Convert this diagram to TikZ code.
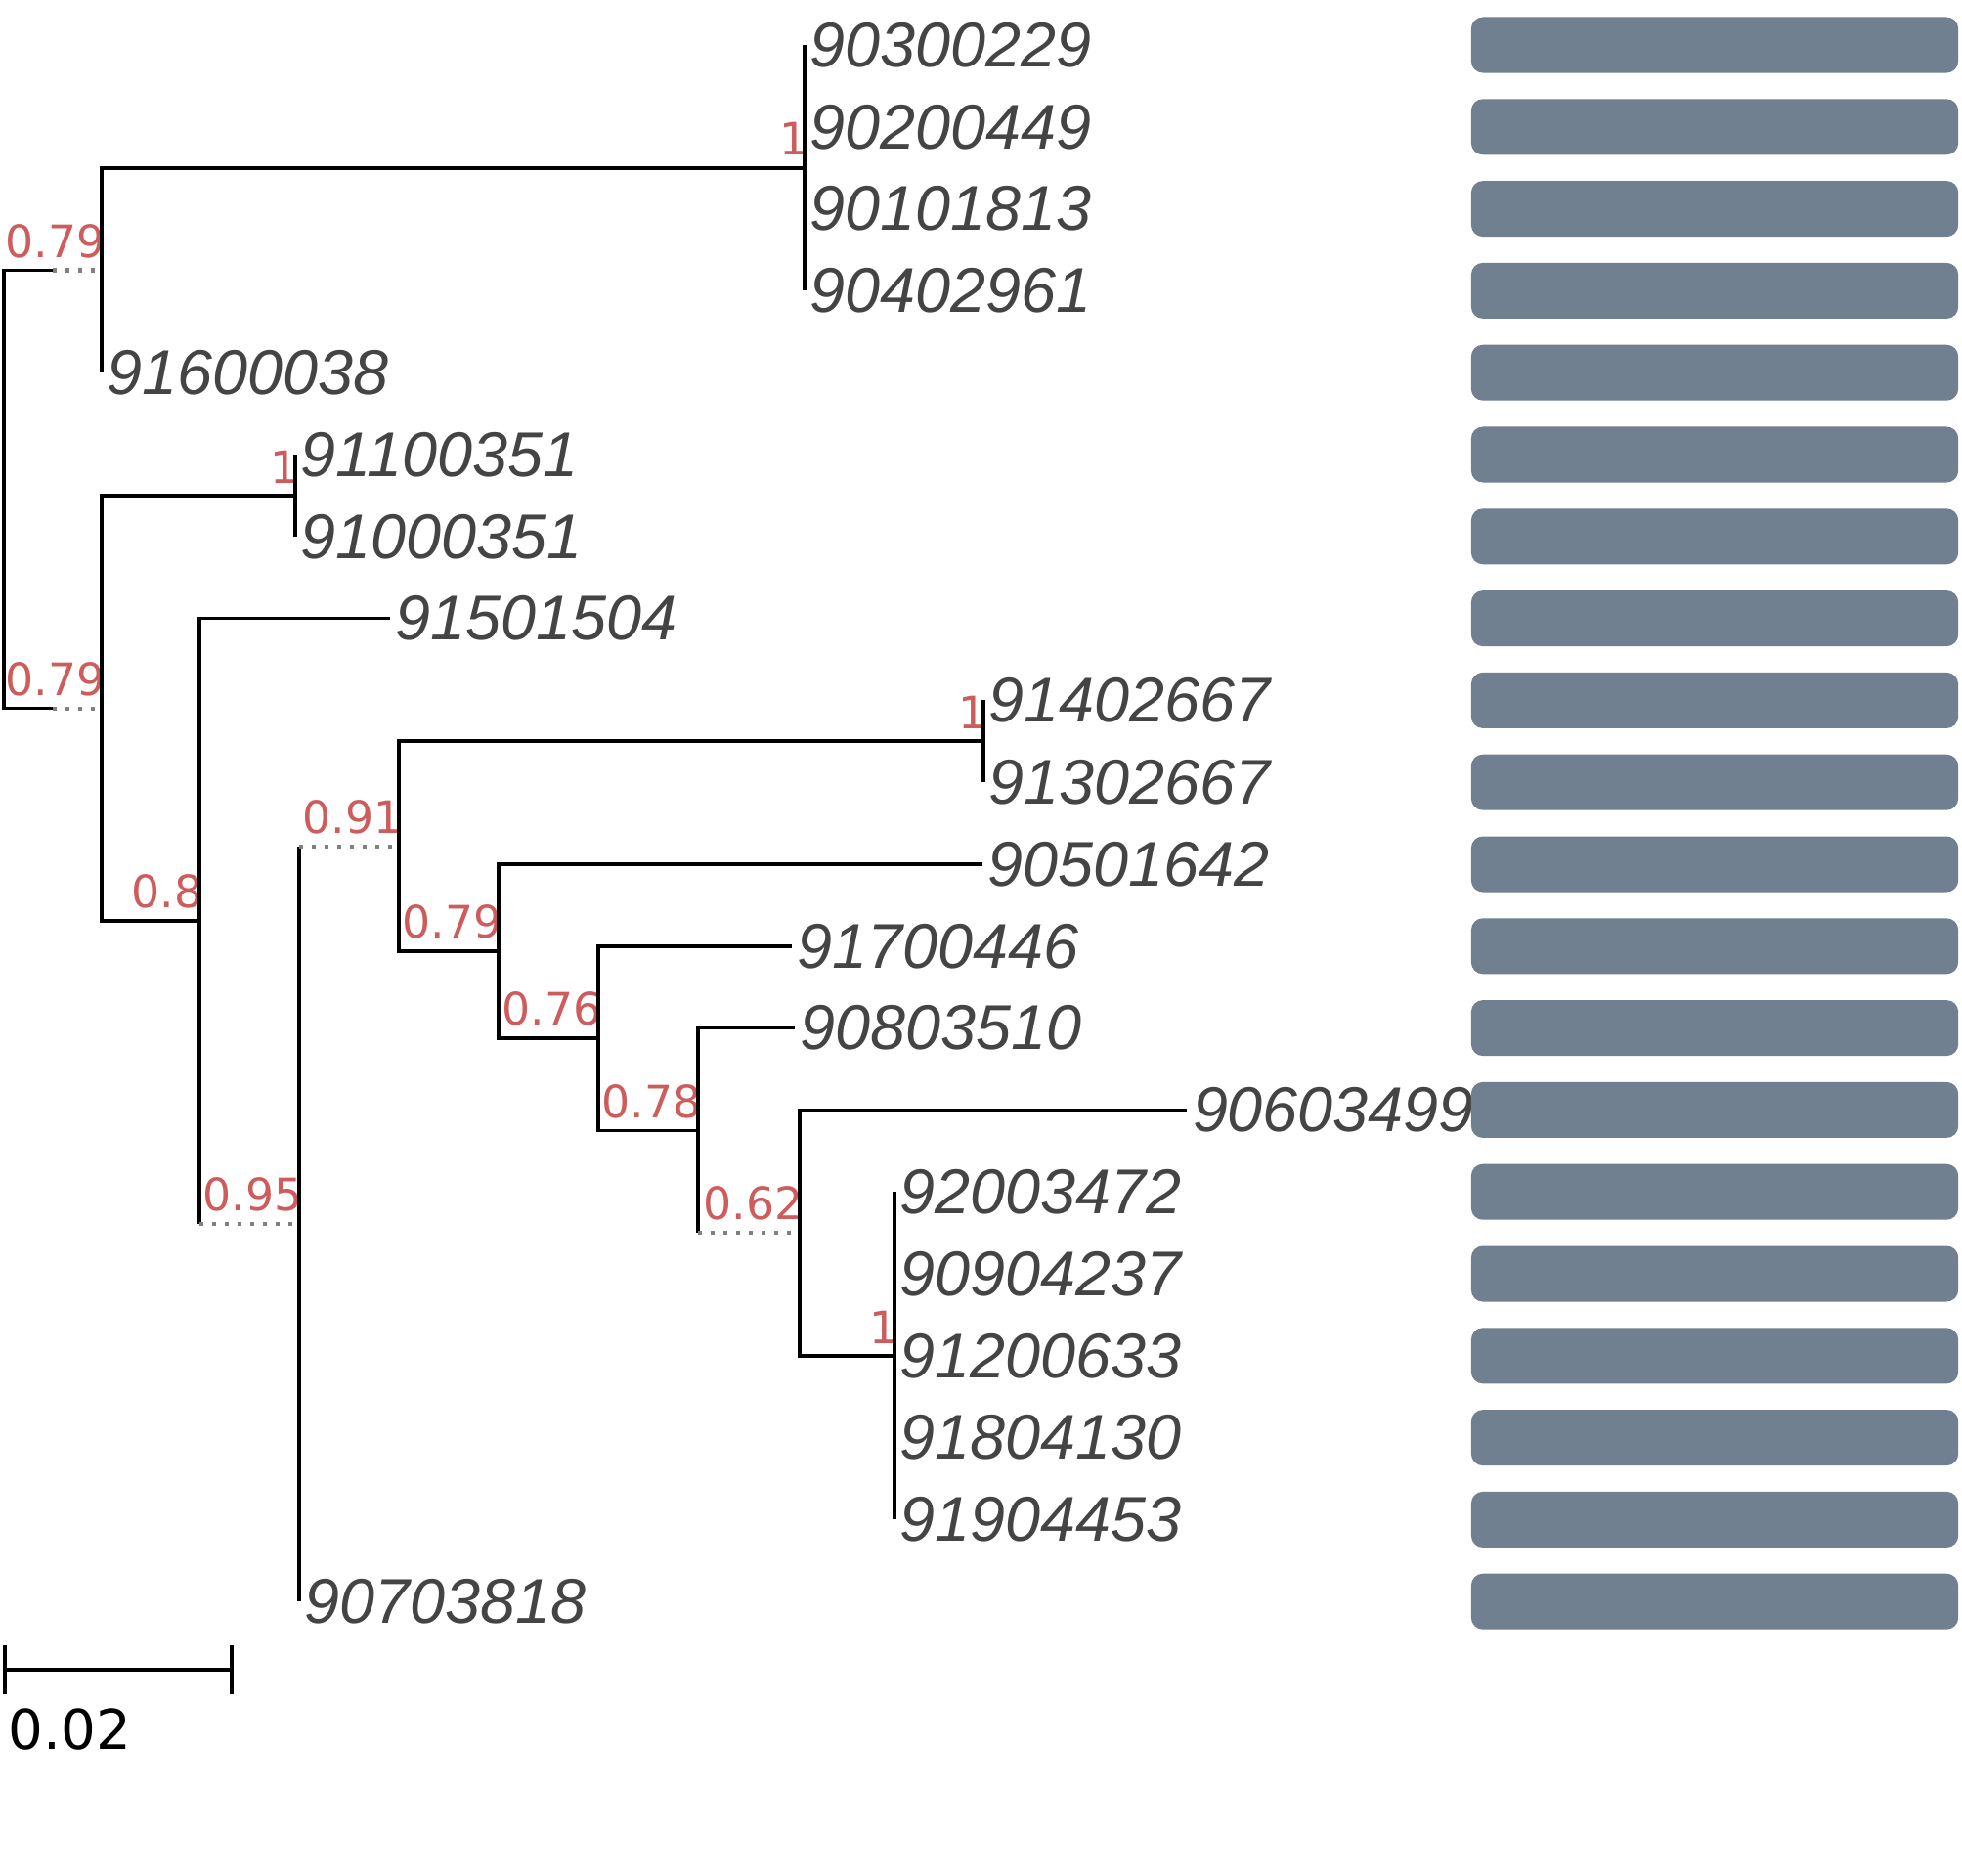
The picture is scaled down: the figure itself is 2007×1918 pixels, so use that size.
\documentclass[tikz,border=0pt]{standalone}
\usepackage{fontspec}
\setmainfont{Liberation Sans}
\newfontfamily\suppfont{DejaVu Sans}
\definecolor{suppred}{RGB}{205,92,92}
\definecolor{leafgray}{RGB}{68,68,68}
\definecolor{slate}{RGB}{112,128,144}
\begin{document}
\begin{tikzpicture}[x=0.01cm,y=-0.01cm,
  br/.style={line width=1.05pt},
  ext/.style={gray,line width=1.2pt,dash pattern=on 1.1pt off 2.6pt},
  leaf/.style={anchor=west,inner sep=1.5pt,text=leafgray,font=\fontsize{18.4}{20}\selectfont\itshape},
  supp/.style={anchor=south east,inner sep=0pt,xshift=0.04cm,yshift=0.12cm,text=suppred,font=\suppfont\fontsize{13}{15}\selectfont},
  bar/.style={fill=slate,rounded corners=0.12cm,minimum width=4.98cm,minimum height=0.57cm,inner sep=0pt}]
\useasboundingbox (0,0) rectangle (2007,1918);
% Leaves
\draw (823,46) node(n1)[leaf] {90300229} +(0,83.8) node(n2)[leaf] {90200449} +(0,167.6) node(n3)[leaf] {90101813} +(0,251.4) node(n4)[leaf] {90402961};
\draw (104,381.2) node(n5)[leaf] {91600038};
\draw (302,465) node(n6)[leaf] {91100351} +(0,83.8) node(n7)[leaf] {91000351};
\draw (399,632.6) node(n8)[leaf] {91501504};
\draw (1006,716.4) node(n9)[leaf] {91402667} +(0,83.8) node(n10)[leaf] {91302667};
\draw (1005,884) node(n11)[leaf] {90501642};
\draw (810,967.8) node(n12)[leaf] {91700446};
\draw (813,1051.6) node(n13)[leaf] {90803510};
\draw (1214,1135.4) node(n14)[leaf] {90603499};
\draw (915,1219.2) node(n15)[leaf] {92003472} +(0,83.8) node(n16)[leaf] {90904237} +(0,167.6) node(n17)[leaf] {91200633} +(0,251.4) node(n18)[leaf] {91804130} +(0,335.2) node(n19)[leaf] {91904453};
\draw (306,1638.2) node(n20)[leaf] {90703818};
% Inner nodes and supports
\coordinate (r) at (4,500.5);
\draw (104,276.45) coordinate(a) node(sa)[supp] {0.79} +(-50,0) coordinate(a0);
\draw (823,171.7) coordinate(c1) node(sc1)[supp] {1};
\draw (104,724.6) coordinate(b) node(sb)[supp] {0.79} +(-50,0) coordinate(b0);
\draw (302,506.9) coordinate(c2) node(sc2)[supp] {1};
\draw (204,942.3) coordinate(d) node(sd)[supp] {0.8};
\draw (306,1251.95) coordinate(e) node(se)[supp] {0.95} +(-102,0) coordinate(e0);
\draw (408,865.7) coordinate(f) node(sf)[supp] {0.91} +(-102,0) coordinate(f0);
\draw (1006,758.3) coordinate(c3) node(sc3)[supp] {1};
\draw (510,973.05) coordinate(g) node(sg)[supp] {0.79};
\draw (612,1062.1) coordinate(h) node(sh)[supp] {0.76};
\draw (714,1156.35) coordinate(k) node(sk)[supp] {0.78};
\draw (818,1261.1) coordinate(m) node(sm)[supp] {0.62} +(-104,0) coordinate(m0);
\draw (915,1386.8) coordinate(c4) node(sc4)[supp] {1};
% Branches root
\draw[br] (r) |- (a0); \draw[ext] (a0) -- (a);
\draw[br] (r) |- (b0); \draw[ext] (b0) -- (b);
% Branches top
\draw[br] (a) |- (c1); \draw[br] (a) |- (n5.west);
\draw[br] (c1) |- (n1.west); \draw[br] (c1) |- (n4.west);
\draw[br] (c1) |- (n2.west); \draw[br] (c1) |- (n3.west);
% Branches bottom
\draw[br] (b) |- (c2); \draw[br] (b) |- (d);
\draw[br] (c2) |- (n6.west); \draw[br] (c2) |- (n7.west);
\draw[br] (d) |- (n8.west); \draw[br] (d) |- (e0); \draw[ext] (e0) -- (e);
\draw[br] (e) |- (f0); \draw[ext] (f0) -- (f); \draw[br] (e) |- (n20.west);
\draw[br] (f) |- (c3); \draw[br] (f) |- (g);
\draw[br] (c3) |- (n9.west); \draw[br] (c3) |- (n10.west);
\draw[br] (g) |- (n11.west); \draw[br] (g) |- (h);
\draw[br] (h) |- (n12.west); \draw[br] (h) |- (k);
\draw[br] (k) |- (n13.west); \draw[br] (k) |- (m0); \draw[ext] (m0) -- (m);
\draw[br] (m) |- (n14.west); \draw[br] (m) |- (c4);
\draw[br] (c4) |- (n15.west); \draw[br] (c4) |- (n19.west);
\draw[br] (c4) |- (n16.west); \draw[br] (c4) |- (n17.west); \draw[br] (c4) |- (n18.west);
% Scale
\coordinate (sl) at (5,1708); \coordinate (sr) at (237,1708);
\draw[br] (sl) -- (sr);
\draw[br] (sl) +(0,-25) -- +(0,25);
\draw[br] (sr) +(0,-25) -- +(0,25);
\node[anchor=north west,inner sep=0pt,font=\suppfont\fontsize{16}{18}\selectfont] (scale) at (8,1747) {0.02};
% Boxes
\draw (1754,46) node(box1)[bar] {} +(0,83.8) node(box2)[bar] {} +(0,167.6) node(box3)[bar] {} +(0,251.4) node(box4)[bar] {} +(0,335.2) node(box5)[bar] {};
\draw (1754,465) node(box6)[bar] {} +(0,83.8) node(box7)[bar] {} +(0,167.6) node(box8)[bar] {} +(0,251.4) node(box9)[bar] {} +(0,335.2) node(box10)[bar] {};
\draw (1754,884) node(box11)[bar] {} +(0,83.8) node(box12)[bar] {} +(0,167.6) node(box13)[bar] {} +(0,251.4) node(box14)[bar] {} +(0,335.2) node(box15)[bar] {};
\draw (1754,1303) node(box16)[bar] {} +(0,83.8) node(box17)[bar] {} +(0,167.6) node(box18)[bar] {} +(0,251.4) node(box19)[bar] {} +(0,335.2) node(box20)[bar] {};
\end{tikzpicture}
\end{document}
